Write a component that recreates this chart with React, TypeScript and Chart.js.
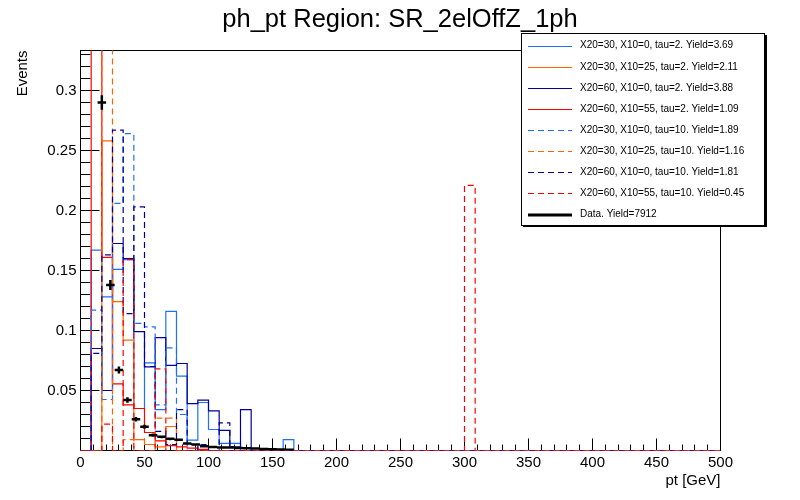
import { useEffect, useRef } from "react";
import { Chart, registerables } from "chart.js";

Chart.register(...registerables);

const FONT = "'Liberation Sans', Arial, Helvetica, sans-serif";

const TITLE = "ph_pt Region: SR_2elOffZ_1ph";
const X_TITLE = "pt [GeV]";
const Y_TITLE = "Events";
const X_MIN = 0;
const X_MAX = 500;
const Y_MAX = 0.33333;

const xTickLabels = [0, 50, 100, 150, 200, 250, 300, 350, 400, 450, 500];
const yTickLabels = [0.05, 0.1, 0.15, 0.2, 0.25, 0.3];

const seriesLabels = [
  "X20=30, X10=0, tau=2. Yield=3.69",
  "X20=30, X10=25, tau=2. Yield=2.11",
  "X20=60, X10=0, tau=2. Yield=3.88",
  "X20=60, X10=55, tau=2. Yield=1.09",
  "X20=30, X10=0, tau=10. Yield=1.89",
  "X20=30, X10=25, tau=10. Yield=1.16",
  "X20=60, X10=0, tau=10. Yield=1.81",
  "X20=60, X10=55, tau=10. Yield=0.45",
];
const dataLabel = "Data. Yield=7912";
const dataYield = 7912;

const seriesColors = [
  "#1e6eff",
  "#ff6600",
  "#000099",
  "#ff0000",
  "#1e6eff",
  "#ff6600",
  "#000099",
  "#ff0000",
];
const seriesDashed = [false, false, false, false, true, true, true, true];

// 60 bins of 500/60 GeV
const mcBlueTau2 = [
  0, 0.167, 0.128, 0.151, 0.159, 0.035, 0.073, 0.034, 0.116, 0.062,
  0.0086, 0.040, 0.0175, 0.006, 0.006, 0, 0, 0, 0, 0.009,
  0, 0, 0, 0, 0, 0, 0, 0, 0, 0,
  0, 0, 0, 0, 0, 0, 0, 0, 0, 0,
  0, 0, 0, 0, 0, 0, 0, 0, 0, 0,
  0, 0, 0, 0, 0, 0, 0, 0, 0, 0,
];
const mcOrangeTau2 = [
  0, 0, 0.258, 0.124, 0.092, 0.009, 0.005, 0.003, 0.020, 0,
  0, 0, 0, 0, 0, 0, 0, 0, 0, 0,
  0, 0, 0, 0, 0, 0, 0, 0, 0, 0,
  0, 0, 0, 0, 0, 0, 0, 0, 0, 0,
  0, 0, 0, 0, 0, 0, 0, 0, 0, 0,
  0, 0, 0, 0, 0, 0, 0, 0, 0, 0,
];
const mcNavyTau2 = [
  0, 0.085, 0.050, 0.1725, 0.160, 0.099, 0.0697, 0.094, 0.071, 0.0725,
  0.039, 0.042, 0.033, 0.0167, 0.003, 0.034, 0, 0, 0, 0,
  0, 0, 0, 0, 0, 0, 0, 0, 0, 0,
  0, 0, 0, 0, 0, 0, 0, 0, 0, 0,
  0, 0, 0, 0, 0, 0, 0, 0, 0, 0,
  0, 0, 0, 0, 0, 0, 0, 0, 0, 0,
];
const mcRedTau2 = [
  0, 0.5, 0.161, 0.0555, 0.038, 0.035, 0.015, 0.008, 0.004, 0.003,
  0.002, 0.001, 0, 0, 0, 0, 0, 0, 0, 0,
  0, 0, 0, 0, 0, 0, 0, 0, 0, 0,
  0, 0, 0, 0, 0, 0, 0, 0, 0, 0,
  0, 0, 0, 0, 0, 0, 0, 0, 0, 0,
  0, 0, 0, 0, 0, 0, 0, 0, 0, 0,
];
const mcBlueTau10 = [
  0, 0.117, 0.0425, 0.206, 0.264, 0.106, 0.103, 0.038, 0.0856, 0.030,
  0.005, 0, 0, 0, 0, 0, 0, 0, 0, 0,
  0, 0, 0, 0, 0, 0, 0, 0, 0, 0,
  0, 0, 0, 0, 0, 0, 0, 0, 0, 0,
  0, 0, 0, 0, 0, 0, 0, 0, 0, 0,
  0, 0, 0, 0, 0, 0, 0, 0, 0, 0,
];
const mcOrangeTau10 = [
  0, 0, 0.45, 0, 0.009, 0, 0, 0.027, 0.027, 0,
  0, 0, 0, 0, 0, 0, 0, 0, 0, 0,
  0, 0, 0, 0, 0, 0, 0, 0, 0, 0,
  0, 0, 0, 0, 0, 0, 0, 0, 0, 0,
  0, 0, 0, 0, 0, 0, 0, 0, 0, 0,
  0, 0, 0, 0, 0, 0, 0, 0, 0, 0,
];
const mcNavyTau10 = [
  0, 0.081, 0.163, 0.267, 0.114, 0.203, 0.070, 0.016, 0.005, 0.034,
  0, 0.005, 0, 0.023, 0, 0, 0, 0, 0, 0,
  0, 0, 0, 0, 0, 0, 0, 0, 0, 0,
  0, 0, 0, 0, 0, 0, 0, 0, 0, 0,
  0, 0, 0, 0, 0, 0, 0, 0, 0, 0,
  0, 0, 0, 0, 0, 0, 0, 0, 0, 0,
];
const mcRedTau10 = [
  0, 0, 0.022, 0, 0.159, 0, 0, 0.068, 0, 0,
  0, 0, 0, 0, 0, 0, 0, 0, 0, 0,
  0, 0, 0, 0, 0, 0, 0, 0, 0, 0,
  0, 0, 0, 0, 0, 0, 0.221, 0, 0, 0,
  0, 0, 0, 0, 0, 0, 0, 0, 0, 0,
  0, 0, 0, 0, 0, 0, 0, 0, 0, 0,
];

// data: 75 bins of 500/75 GeV (first filled bins listed, the rest are empty)
const dataValues = [
  0, 0, 0.290, 0.138, 0.067, 0.042, 0.026, 0.0198, 0.0128, 0.0114,
  0.0097, 0.0090, 0.0058, 0.0050, 0.0035, 0.0030, 0.0026, 0.0024, 0.0020, 0.0018,
  0.0016, 0.0013, 0.0011, 0.0009, 0.0007,
];
const DATA_BINS = 75;

const mcSeries = [
  mcBlueTau2,
  mcOrangeTau2,
  mcNavyTau2,
  mcRedTau2,
  mcBlueTau10,
  mcOrangeTau10,
  mcNavyTau10,
  mcRedTau10,
];

const DASH = [6, 4];

function histPoints(values: number[]) {
  const w = (X_MAX - X_MIN) / values.length;
  const pts = values.map((v, i) => ({ x: X_MIN + i * w, y: v }));
  pts.push({ x: X_MAX, y: values[values.length - 1] });
  return pts;
}

const rootPlugin = {
  id: "rootStyle",
  beforeDatasetsDraw(chart: any) {
    const { ctx, chartArea: a, scales } = chart;
    const xs = scales.x;
    const ys = scales.y;
    ctx.save();
    ctx.strokeStyle = "#000";
    ctx.lineWidth = 1;
    ctx.strokeRect(a.left, a.top, a.right - a.left, a.bottom - a.top);
    ctx.beginPath();
    for (let v = X_MIN; v <= X_MAX + 1e-9; v += 10) {
      const px = Math.floor(xs.getPixelForValue(v)) + 0.5;
      const len = v % 50 === 0 ? 12 : 6;
      ctx.moveTo(px, a.bottom);
      ctx.lineTo(px, a.bottom - len);
    }
    for (let k = 0; k * 0.01 <= Y_MAX + 1e-9; k++) {
      const py = Math.floor(ys.getPixelForValue(k * 0.01)) + 0.5;
      const len = k % 5 === 0 ? 19 : 10;
      ctx.moveTo(a.left, py);
      ctx.lineTo(a.left + len, py);
    }
    ctx.stroke();
    ctx.restore();
  },
  afterDatasetsDraw(chart: any) {
    const { ctx, chartArea: a, scales } = chart;
    const xs = scales.x;
    const ys = scales.y;
    const w = (X_MAX - X_MIN) / DATA_BINS;
    ctx.save();
    ctx.beginPath();
    ctx.rect(a.left, a.top, a.right - a.left, a.bottom - a.top);
    ctx.clip();
    ctx.strokeStyle = "#000";
    ctx.lineWidth = 2.5;
    ctx.beginPath();
    dataValues.forEach((v, i) => {
      if (v <= 0) return;
      const c = X_MIN + (i + 0.5) * w;
      const err = Math.sqrt(v * dataYield) / dataYield;
      const x0 = xs.getPixelForValue(c - w / 2);
      const x1 = xs.getPixelForValue(c + w / 2);
      const xc = xs.getPixelForValue(c);
      const y = ys.getPixelForValue(v);
      ctx.moveTo(x0, y);
      ctx.lineTo(x1, y);
      ctx.moveTo(xc, ys.getPixelForValue(v + err));
      ctx.lineTo(xc, ys.getPixelForValue(v - err));
    });
    ctx.stroke();
    ctx.restore();
  },
  afterDraw(chart: any) {
    const { ctx } = chart;
    // title
    ctx.save();
    ctx.fillStyle = "#000";
    ctx.font = `25.5px ${FONT}`;
    ctx.textAlign = "center";
    ctx.textBaseline = "alphabetic";
    ctx.fillText(TITLE, 400, 27);
    ctx.restore();
    // legend
    const L = 521, T = 33, R = 765, B = 225;
    ctx.save();
    ctx.fillStyle = "#000";
    ctx.fillRect(L + 2, B, R - L, 2);
    ctx.fillRect(R, T + 2, 2, B - T);
    ctx.fillStyle = "#fff";
    ctx.fillRect(L, T, R - L, B - T);
    ctx.strokeStyle = "#000";
    ctx.lineWidth = 1;
    ctx.strokeRect(L + 0.5, T + 0.5, R - L - 1, B - T);
    const rowY = (i: number) => 45.7 + 21.1 * i;
    ctx.font = `10px ${FONT}`;
    ctx.textBaseline = "middle";
    ctx.textAlign = "left";
    seriesLabels.forEach((lab, i) => {
      const y = Math.round(rowY(i)) + 0.5;
      ctx.strokeStyle = seriesColors[i];
      ctx.lineWidth = 1;
      ctx.setLineDash(seriesDashed[i] ? DASH : []);
      ctx.beginPath();
      ctx.moveTo(528, y);
      ctx.lineTo(572, y);
      ctx.stroke();
      ctx.setLineDash([]);
      ctx.fillStyle = "#000";
      ctx.fillText(lab, 580, rowY(i));
    });
    const yd = Math.round(rowY(8));
    ctx.strokeStyle = "#000";
    ctx.lineWidth = 3;
    ctx.beginPath();
    ctx.moveTo(528, yd);
    ctx.lineTo(572, yd);
    ctx.stroke();
    ctx.fillText(dataLabel, 580, rowY(8));
    ctx.restore();
  },
};

export default function App() {
  const ref = useRef<HTMLCanvasElement>(null);
  useEffect(() => {
    if (!ref.current) return;
    Chart.defaults.font.family = FONT;
    const datasets = mcSeries.map((vals, i) => ({
      label: seriesLabels[i],
      data: histPoints(vals),
      borderColor: seriesColors[i],
      backgroundColor: seriesColors[i],
      borderWidth: 1.2,
      borderDash: seriesDashed[i] ? DASH : [],
      pointRadius: 0,
      pointHoverRadius: 0,
      fill: false,
      tension: 0,
      stepped: true,
      order: 10 - i,
    }));
    const chart = new Chart(ref.current, {
      type: "line",
      data: { datasets: datasets as any },
      options: {
        animation: false,
        responsive: true,
        maintainAspectRatio: false,
        devicePixelRatio: 1,
        events: [],
        layout: { padding: { left: 0, right: 79.5, top: 50.5, bottom: 0 } },
        plugins: {
          legend: { display: false },
          tooltip: { enabled: false },
          title: { display: false },
        },
        scales: {
          x: {
            type: "linear",
            min: X_MIN,
            max: X_MAX,
            afterBuildTicks: (s: any) => {
              s.ticks = xTickLabels.map((v) => ({ value: v }));
            },
            afterFit: (s: any) => {
              s.height = 49.5;
            },
            ticks: {
              color: "#000",
              font: { family: FONT, size: 15 },
              autoSkip: false,
              maxRotation: 0,
              padding: 3,
              callback: (v: any) => String(v),
            },
            grid: { display: false, drawTicks: false },
            border: { display: false },
            title: {
              display: true,
              text: X_TITLE,
              align: "end",
              color: "#000",
              font: { family: FONT, size: 15 },
              padding: { top: 0, bottom: 10 },
            },
          },
          y: {
            type: "linear",
            min: 0,
            max: Y_MAX,
            afterBuildTicks: (s: any) => {
              s.ticks = yTickLabels.map((v) => ({ value: v }));
            },
            afterFit: (s: any) => {
              s.width = 80.5;
            },
            ticks: {
              color: "#000",
              font: { family: FONT, size: 15 },
              padding: 4,
              callback: (v: any) => String(Number(Number(v).toFixed(2))),
            },
            grid: { display: false, drawTicks: false },
            border: { display: false },
            title: {
              display: true,
              text: Y_TITLE,
              align: "end",
              color: "#000",
              font: { family: FONT, size: 15 },
              padding: { top: 14, bottom: 0 },
            },
          },
        },
      },
      plugins: [rootPlugin],
    });
    return () => chart.destroy();
  }, []);
  return (
    <div style={{ position: "absolute", left: 0, top: 0, width: 800, height: 500, background: "#fff" }}>
      <canvas ref={ref} />
    </div>
  );
}
